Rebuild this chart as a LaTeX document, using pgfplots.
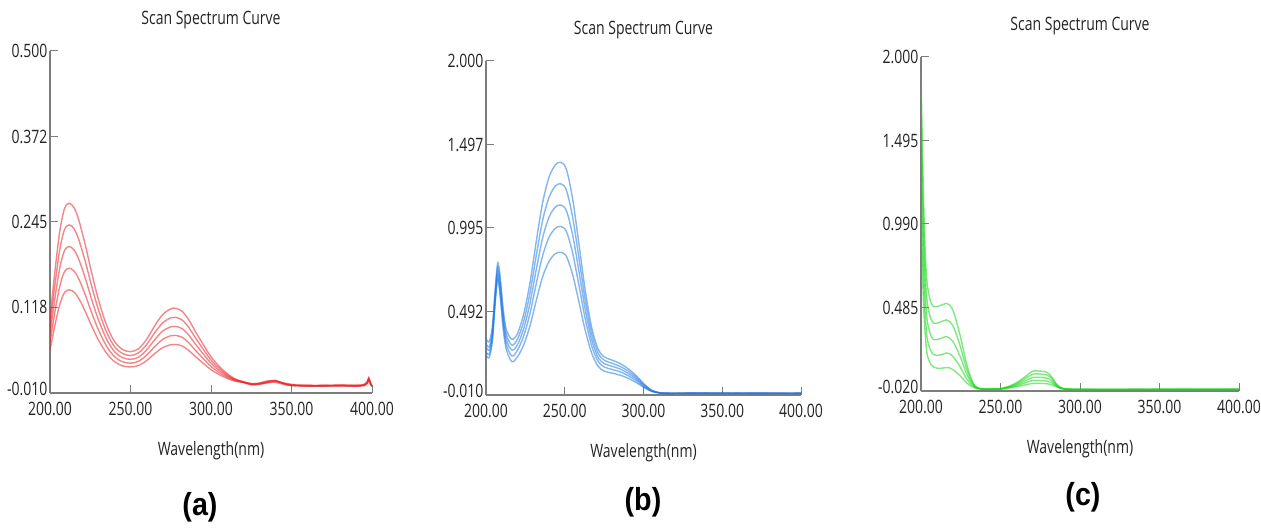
\documentclass[border=0pt]{standalone}
\usepackage{fontspec}
\setmainfont{Open Sans}[FakeStretch=0.76]
\newfontfamily\labfont{Liberation Sans}[FakeStretch=0.9]
\usepackage{pgfplots}
\pgfplotsset{compat=1.18}
\definecolor{redc}{RGB}{232,35,40}
\definecolor{bluec}{RGB}{30,120,225}
\definecolor{greenc}{RGB}{20,215,20}
\definecolor{axgray}{RGB}{125,125,125}
\definecolor{txt}{RGB}{35,35,35}
\pgfplotsset{
  spec/.style={
    scale only axis,
    anchor=south west,
    xmin=200, xmax=400,
    axis x line=bottom, axis y line=left,
    axis line style={-, axgray, line width=1.1bp},
    tick style={axgray, line width=1bp},
    tick align=inside,
    major tick length=8bp,
    xtick={200,250,300,350,400},
    xticklabels={200.00,250.00,300.00,350.00,400.00},
    tick label style={font=\fontsize{18.5}{21}\selectfont, text=txt},
    xticklabel style={yshift=-6bp},
    yticklabel style={xshift=1bp},
    title={Scan Spectrum Curve},
    title style={at={(0.5,1)}, anchor=center, yshift=25bp, font=\fontsize{18.5}{21}\selectfont, text=txt},
    xlabel={Wavelength(nm)},
    xlabel style={at={(0.5,0)}, anchor=center, yshift=-58bp, font=\fontsize{18.5}{21}\selectfont, text=txt},
    every axis plot/.append style={smooth, line width=1.4bp, opacity=0.55},
  }
}
\begin{document}
\begin{tikzpicture}
\useasboundingbox (0,0) rectangle (1261bp,529bp);
% ---------------- (a) ----------------
\begin{axis}[spec, at={(50bp,136bp)}, width=322bp, height=342bp,
  ymin=-0.010, ymax=0.500,
  ytick={-0.010,0.118,0.245,0.372,0.500},
  yticklabels={\raisebox{9bp}{-0.010},0.118,0.245,0.372,0.500}]
\addplot[redc] coordinates {(200,0.100)(203,0.170)(206,0.230)(209,0.265)(212,0.273)(215,0.266)(218,0.247)(222,0.210)(226,0.168)(230,0.130)(235,0.092)(240,0.067)(245,0.055)(250,0.0516)(255,0.056)(260,0.070)(265,0.090)(270,0.107)(275,0.1155)(278,0.1163)(282,0.112)(286,0.100)(290,0.083)(295,0.063)(300,0.044)(305,0.030)(310,0.019)(315,0.011)(320,0.007)(325,0.004)(330,0.005)(335,0.008)(340,0.008)(345,0.005)(350,0.002)(360,0.001)(370,0.001)(380,0.002)(390,0.001)(395,0.002)(397,0.006)(398,0.012)(399,0.005)(400,0.000)};
\addplot[redc] coordinates {(200,0.0885)(203,0.1501)(206,0.2029)(209,0.2337)(212,0.2407)(215,0.2346)(218,0.2178)(222,0.1853)(226,0.1483)(230,0.1149)(235,0.0814)(240,0.0594)(245,0.0489)(250,0.0459)(255,0.0498)(260,0.0621)(265,0.0797)(270,0.0946)(275,0.1021)(278,0.1028)(282,0.0990)(286,0.0885)(290,0.0735)(295,0.0559)(300,0.0392)(305,0.0269)(310,0.0172)(315,0.0102)(320,0.0066)(325,0.003)(330,0.004)(335,0.007)(340,0.009)(345,0.004)(350,0.001)(360,0.002)(370,0.000)(380,0.001)(390,0.002)(395,0.001)(397,0.005)(398,0.011)(399,0.004)(400,0.001)};
\addplot[redc] coordinates {(200,0.0770)(203,0.1302)(206,0.1758)(209,0.2024)(212,0.2084)(215,0.2031)(218,0.1887)(222,0.1606)(226,0.1286)(230,0.0998)(235,0.0709)(240,0.0519)(245,0.0428)(250,0.0402)(255,0.0435)(260,0.0542)(265,0.0694)(270,0.0823)(275,0.0887)(278,0.0893)(282,0.0861)(286,0.0770)(290,0.0640)(295,0.0488)(300,0.0344)(305,0.0238)(310,0.0154)(315,0.0093)(320,0.0063)(325,0.004)(330,0.003)(335,0.006)(340,0.007)(345,0.005)(350,0.003)(360,0.000)(370,0.002)(380,0.000)(390,0.001)(395,0.003)(397,0.007)(398,0.013)(399,0.006)(400,0.000)};
\addplot[redc] coordinates {(200,0.0654)(203,0.1102)(206,0.1486)(209,0.1710)(212,0.1762)(215,0.1717)(218,0.1595)(222,0.1358)(226,0.1090)(230,0.0846)(235,0.0603)(240,0.0443)(245,0.0366)(250,0.0345)(255,0.0373)(260,0.0462)(265,0.0590)(270,0.0699)(275,0.0754)(278,0.0759)(282,0.0731)(286,0.0654)(290,0.0546)(295,0.0418)(300,0.0296)(305,0.0206)(310,0.0136)(315,0.0085)(320,0.0059)(325,0.003)(330,0.004)(335,0.006)(340,0.008)(345,0.004)(350,0.002)(360,0.001)(370,0.000)(380,0.002)(390,0.000)(395,0.002)(397,0.005)(398,0.010)(399,0.004)(400,0.001)};
\addplot[redc] coordinates {(200,0.0539)(203,0.0903)(206,0.1215)(209,0.1397)(212,0.1439)(215,0.1402)(218,0.1304)(222,0.1111)(226,0.0893)(230,0.0695)(235,0.0498)(240,0.0368)(245,0.0305)(250,0.0288)(255,0.0310)(260,0.0383)(265,0.0487)(270,0.0576)(275,0.0620)(278,0.0624)(282,0.0602)(286,0.0539)(290,0.0451)(295,0.0347)(300,0.0248)(305,0.0175)(310,0.0118)(315,0.0076)(320,0.0056)(325,0.002)(330,0.003)(335,0.005)(340,0.006)(345,0.003)(350,0.001)(360,0.000)(370,0.001)(380,0.001)(390,0.000)(395,0.001)(397,0.004)(398,0.009)(399,0.003)(400,0.000)};
\end{axis}
% ---------------- (b) ----------------
\begin{axis}[spec, at={(486bp,134bp)}, width=315bp, height=334bp,
  ymin=-0.010, ymax=2.000,
  ytick={-0.010,0.492,0.995,1.497,2.000},
  yticklabels={\raisebox{9bp}{-0.010},0.492,0.995,1.497,2.000}]
\addplot[bluec] coordinates {(200,0.33)(202,0.31)(204,0.40)(206,0.65)(207.5,0.786)(209,0.70)(211,0.50)(213,0.38)(216.5,0.325)(220,0.36)(224,0.48)(228,0.67)(232,0.92)(236,1.15)(240,1.30)(244,1.375)(247.5,1.39)(251,1.35)(255,1.17)(259,0.90)(263,0.62)(267,0.40)(271,0.27)(275,0.22)(280,0.20)(285,0.18)(290,0.15)(295,0.11)(300,0.06)(305,0.02)(310,0.004)(315,0.0)(330,0.002)(350,0.0)(370,0.001)(400,0.0)};
\addplot[bluec] coordinates {(200,0.30)(202,0.28)(204,0.37)(206,0.62)(207.5,0.76)(209,0.67)(211,0.47)(213,0.35)(216.5,0.29)(220,0.327)(224,0.435)(228,0.608)(232,0.834)(236,1.043)(240,1.179)(244,1.247)(247.5,1.261)(251,1.224)(255,1.061)(259,0.816)(263,0.562)(267,0.363)(271,0.245)(275,0.200)(280,0.181)(285,0.163)(290,0.136)(295,0.100)(300,0.054)(305,0.018)(310,0.004)(315,0.001)(330,0.0)(350,0.002)(370,0.0)(400,0.001)};
\addplot[bluec] coordinates {(200,0.28)(202,0.26)(204,0.35)(206,0.60)(207.5,0.735)(209,0.64)(211,0.44)(213,0.32)(216.5,0.26)(220,0.293)(224,0.391)(228,0.546)(232,0.750)(236,0.937)(240,1.060)(244,1.121)(247.5,1.133)(251,1.100)(255,0.954)(259,0.734)(263,0.505)(267,0.326)(271,0.220)(275,0.179)(280,0.163)(285,0.147)(290,0.122)(295,0.090)(300,0.049)(305,0.016)(310,0.003)(315,0.0)(330,0.001)(350,0.001)(370,0.0)(400,0.0)};
\addplot[bluec] coordinates {(200,0.25)(202,0.235)(204,0.33)(206,0.58)(207.5,0.71)(209,0.61)(211,0.41)(213,0.29)(216.5,0.225)(220,0.260)(224,0.347)(228,0.484)(232,0.664)(236,0.830)(240,0.939)(244,0.993)(247.5,1.004)(251,0.975)(255,0.845)(259,0.650)(263,0.448)(267,0.289)(271,0.195)(275,0.159)(280,0.144)(285,0.130)(290,0.108)(295,0.079)(300,0.043)(305,0.014)(310,0.003)(315,0.001)(330,0.0)(350,0.0)(370,0.002)(400,0.0)};
\addplot[bluec] coordinates {(200,0.23)(202,0.215)(204,0.31)(206,0.56)(207.5,0.686)(209,0.58)(211,0.38)(213,0.26)(216.5,0.19)(220,0.220)(224,0.293)(228,0.409)(232,0.562)(236,0.703)(240,0.794)(244,0.840)(247.5,0.849)(251,0.825)(255,0.715)(259,0.550)(263,0.379)(267,0.244)(271,0.165)(275,0.134)(280,0.122)(285,0.110)(290,0.092)(295,0.067)(300,0.037)(305,0.012)(310,0.002)(315,0.0)(330,0.001)(350,0.0)(370,0.0)(400,0.001)};
\end{axis}
% ---------------- (c) ----------------
\begin{axis}[spec, at={(921bp,138bp)}, width=318bp, height=334bp,
  ymin=-0.020, ymax=2.000,
  ytick={-0.020,0.485,0.990,1.495,2.000},
  yticklabels={\raisebox{9bp}{-0.020},0.485,0.990,1.495,2.000}]
\addplot[greenc] coordinates {(200,1.90)(201,1.40)(202,1.00)(203,0.75)(204,0.62)(206,0.52)(208,0.49)(210,0.49)(213,0.50)(216,0.51)(218,0.50)(220,0.47)(222,0.41)(225,0.30)(228,0.17)(231,0.07)(234,0.01)(237,-0.005)(240,-0.008)(245,-0.008)(250,-0.005)(255,0.008)(260,0.030)(265,0.062)(268,0.085)(271,0.102)(275,0.100)(279,0.094)(282,0.068)(285,0.025)(288,0.000)(292,-0.008)(300,-0.010)(320,-0.010)(350,-0.009)(380,-0.009)(400,-0.009)};
\addplot[greenc] coordinates {(200,1.70)(201,1.22)(202,0.86)(203,0.63)(204,0.51)(206,0.42)(208,0.39)(210,0.39)(213,0.40)(216,0.41)(218,0.40)(220,0.375)(222,0.33)(225,0.24)(228,0.135)(231,0.055)(234,0.008)(237,-0.005)(240,-0.008)(245,-0.009)(250,-0.007)(255,0.004)(260,0.024)(265,0.052)(268,0.070)(271,0.083)(275,0.082)(279,0.078)(282,0.058)(285,0.020)(288,-0.002)(292,-0.008)(300,-0.010)(320,-0.011)(350,-0.010)(380,-0.010)(400,-0.010)};
\addplot[greenc] coordinates {(200,1.50)(201,1.05)(202,0.72)(203,0.51)(204,0.40)(206,0.32)(208,0.29)(210,0.29)(213,0.30)(216,0.31)(218,0.30)(220,0.28)(222,0.245)(225,0.18)(228,0.10)(231,0.04)(234,0.005)(237,-0.006)(240,-0.008)(245,-0.009)(250,-0.007)(255,0.002)(260,0.018)(265,0.040)(268,0.053)(271,0.063)(275,0.062)(279,0.058)(282,0.044)(285,0.015)(288,-0.003)(292,-0.009)(300,-0.010)(320,-0.010)(350,-0.011)(380,-0.010)(400,-0.011)};
\addplot[greenc] coordinates {(200,1.25)(201,0.85)(202,0.56)(203,0.39)(204,0.29)(206,0.225)(208,0.20)(210,0.195)(213,0.20)(216,0.21)(218,0.205)(220,0.19)(222,0.165)(225,0.12)(228,0.065)(231,0.025)(234,0.002)(237,-0.006)(240,-0.009)(245,-0.010)(250,-0.008)(255,0.000)(260,0.012)(265,0.028)(268,0.037)(271,0.044)(275,0.043)(279,0.040)(282,0.030)(285,0.010)(288,-0.004)(292,-0.009)(300,-0.011)(320,-0.011)(350,-0.010)(380,-0.011)(400,-0.010)};
\addplot[greenc] coordinates {(200,1.00)(201,0.66)(202,0.42)(203,0.28)(204,0.195)(206,0.145)(208,0.125)(210,0.118)(213,0.118)(216,0.122)(218,0.12)(220,0.11)(222,0.095)(225,0.068)(228,0.036)(231,0.012)(234,-0.002)(237,-0.007)(240,-0.009)(245,-0.010)(250,-0.009)(255,-0.002)(260,0.006)(265,0.016)(268,0.022)(271,0.027)(275,0.026)(279,0.024)(282,0.018)(285,0.005)(288,-0.005)(292,-0.010)(300,-0.011)(320,-0.012)(350,-0.011)(380,-0.011)(400,-0.011)};
\end{axis}
% ---------------- panel letters ----------------
\node[font=\labfont\bfseries\fontsize{32}{36}\selectfont, text=black] at (200bp,22bp) {(a)};
\node[font=\labfont\bfseries\fontsize{32}{36}\selectfont, text=black] at (643bp,27bp) {(b)};
\node[font=\labfont\bfseries\fontsize{32}{36}\selectfont, text=black] at (1083bp,32bp) {(c)};
\end{tikzpicture}
\end{document}
